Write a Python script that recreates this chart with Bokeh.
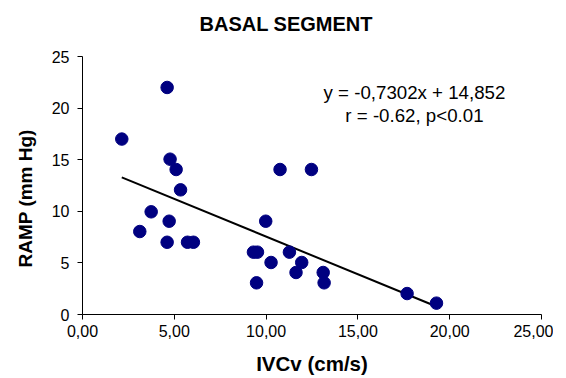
from bokeh.plotting import figure
from bokeh.models import Range1d, CustomJSTickFormatter, FixedTicker, Title
from bokeh.core.properties import value
from bokeh.embed import file_html
from bokeh.resources import INLINE

ivcv = [2.14, 4.61, 4.77, 5.10, 5.34, 3.74, 3.12, 4.72, 4.61, 5.72, 6.04,
        9.31, 9.53, 9.48, 9.98, 10.27, 10.76, 11.27, 11.63, 11.94, 12.47,
        13.11, 13.16, 17.68, 19.28]
ramp = [17.0, 22.0, 15.05, 14.05, 12.08, 9.95, 8.04, 9.04, 7.0, 7.0, 7.0,
        6.04, 6.04, 3.07, 9.04, 5.04, 14.05, 6.04, 4.07, 5.04, 14.05,
        4.07, 3.07, 2.03, 1.1]
slope = -0.7302
intercept = 14.852
eq_lines = ["y = -0,7302x + 14,852", "r = -0.62, p<0.01"]
x_ticks = [0, 5, 10, 15, 20, 25]
y_ticks = [0, 5, 10, 15, 20, 25]
title_text = "BASAL SEGMENT"
x_label = "IVCv (cm/s)"
y_label = "RAMP  (mm Hg)"

FONT = "Liberation Sans"

p = figure(frame_width=459, frame_height=258, output_backend="svg", toolbar_location=None,
           x_range=Range1d(0, 25), y_range=Range1d(0, 25),
           min_border_left=82, min_border_right=12, min_border_top=56, min_border_bottom=20)
p.outline_line_color = None
p.grid.visible = False
p.background_fill_color = "white"
p.border_fill_color = "white"

# main title (outermost) with a thin spacer between it and the frame
p.title = Title(text=title_text, align="left", offset=117, text_font=FONT,
                text_font_size="20px", text_font_style="bold", text_color="black",
                standoff=10)
p.add_layout(Title(text=" ", text_font_size="1px", standoff=14), "above")

for ax in (p.xaxis[0], p.yaxis[0]):
    ax.axis_line_color = "black"
    ax.axis_line_width = 1
    ax.major_tick_line_color = "black"
    ax.major_tick_in = 0
    ax.major_tick_out = 5
    ax.minor_tick_line_color = None
    ax.major_label_text_font = FONT
    ax.major_label_text_font_size = "16px"
    ax.major_label_text_color = "black"

p.xaxis.ticker = FixedTicker(ticks=x_ticks)
p.yaxis.ticker = FixedTicker(ticks=y_ticks)
p.xaxis.formatter = CustomJSTickFormatter(code="return tick.toFixed(2).replace('.', ',');")
p.xaxis.major_label_standoff = 5
p.yaxis.major_label_standoff = 8

p.xaxis.axis_label = x_label
p.xaxis.axis_label_text_font = FONT
p.xaxis.axis_label_text_font_size = "20.5px"
p.xaxis.axis_label_text_font_style = "bold"
p.xaxis.axis_label_text_color = "black"
p.xaxis.axis_label_standoff = 12

p.add_layout(Title(text=y_label, align="left", offset=47, text_font=FONT,
                   text_font_size="19px", text_font_style="bold", text_color="black",
                   vertical_align="middle", text_baseline="middle", standoff=24), "left")

xmin, xmax = min(ivcv), max(ivcv)
p.line([xmin, xmax], [slope * xmin + intercept, slope * xmax + intercept],
       line_color="black", line_width=2)

p.scatter(ivcv, ramp, size=12.5, fill_color="#000080", line_color="#000080")

p.text(x=[18.08, 18.08], y=[21.5, 19.3], text=eq_lines, text_font=value(FONT),
       text_font_size="18.7px", text_align="center", text_baseline="middle",
       text_color="black")

open("out.html", "w").write(file_html(p, INLINE))
